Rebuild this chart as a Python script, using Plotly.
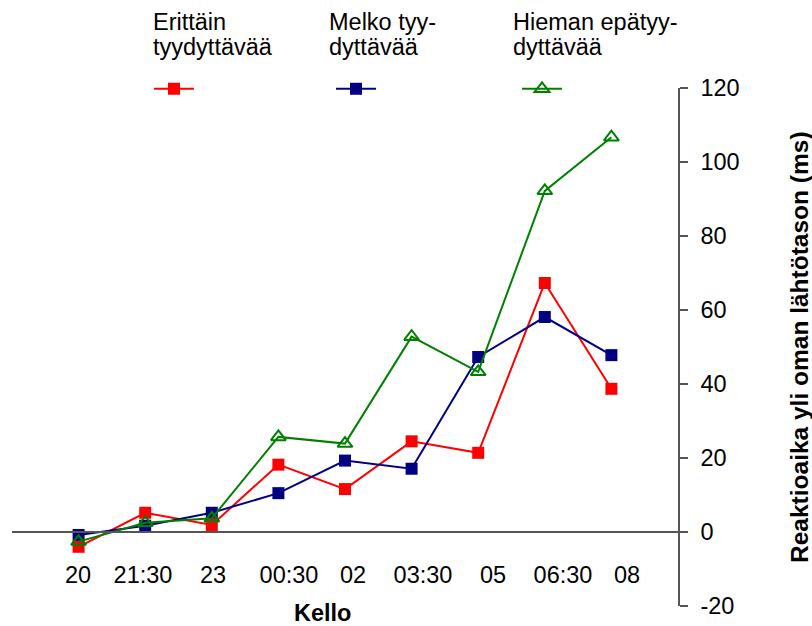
import plotly.graph_objects as go

# Clock times of the measurements
categories = ["20", "21:30", "23", "00:30", "02", "03:30", "05", "06:30", "08"]

# Reaction time above own baseline (ms), by sleep-quality group
erittain = [-4.0, 5.2, 1.9, 18.2, 11.6, 24.5, 21.4, 67.3, 38.7]
melko = [-0.8, 1.7, 5.2, 10.5, 19.3, 17.1, 47.3, 58.1, 47.8]
hieman = [-2.6, 2.5, 3.7, 25.7, 23.9, 52.8, 43.3, 92.2, 106.7]

series_lines = [
    ["Erittäin", "tyydyttävää"],
    ["Melko tyy-", "dyttävää"],
    ["Hieman epätyy-", "dyttävää"],
]
y_ticks = [-20, 0, 20, 40, 60, 80, 100, 120]

FONT = "Arial, Liberation Sans, sans-serif"
FS = 23.5
W, H = 812, 626
ML, MR, MT, MB = 12, 134, 88, 20
PW, PH = W - ML - MR, H - MT - MB


def px_x(px):
    return (px - ML) / PW


def px_y(py):
    return (H - MB - py) / PH


xs = list(range(len(categories)))
fig = go.Figure()

styles = [
    dict(color="#FF0000", symbol="square", fill=True),
    dict(color="#000080", symbol="square", fill=True),
    dict(color="#008000", symbol="triangle-up-open", fill=False),
]
legends = ["legend", "legend2", "legend3"]
for vals, st, lg in zip([erittain, melko, hieman], styles, legends):
    fig.add_trace(go.Scatter(
        x=xs, y=vals, mode="lines+markers", name="",
        line=dict(color=st["color"], width=2),
        marker=dict(symbol=st["symbol"], size=12 if st["fill"] else 13,
                    color=st["color"],
                    line=dict(color=st["color"], width=0 if st["fill"] else 2)),
        legend=lg, showlegend=True,
    ))

# x axis line sits at y = 0
y0_pos = (0 - y_ticks[0]) / (y_ticks[-1] - y_ticks[0])

# category labels are spread slightly wider than the points they name
label_centres_px = [78, 143, 213, 289, 353, 423, 493, 563, 627]
x_per_px = 10 / PW
label_vals = [(p - ML) * x_per_px - 1 for p in label_centres_px]

axis_col = "#555555"
fig.update_layout(
    width=W, height=H,
    margin=dict(l=ML, r=MR, t=MT, b=MB, autoexpand=False),
    plot_bgcolor="white", paper_bgcolor="white",
    font=dict(family=FONT, size=FS, color="black"),
    xaxis=dict(
        range=[-1, 9], tickmode="array", tickvals=label_vals, ticktext=categories,
        ticks="", showgrid=False, zeroline=False,
        showline=True, linecolor=axis_col, linewidth=1.5,
        anchor="free", position=y0_pos, ticklabelstandoff=22,
        tickfont=dict(size=FS),
    ),
    xaxis2=dict(
        range=[-1, 9], overlaying="x", tickmode="array",
        tickvals=[-1, 1, 3, 5, 7, 9], ticks="outside", ticklen=8,
        tickcolor=axis_col, tickwidth=1.5,
        showticklabels=False, showgrid=False, zeroline=False,
        showline=False, anchor="free", position=y0_pos,
    ),
    yaxis=dict(
        range=[y_ticks[0], y_ticks[-1]], tickmode="array", tickvals=y_ticks,
        ticktext=[str(v) for v in y_ticks],
        side="right", ticks="outside", ticklen=8, tickcolor=axis_col, tickwidth=1.5,
        showline=True, linecolor=axis_col, linewidth=1.5,
        showgrid=False, zeroline=False, ticklabelstandoff=8,
        tickfont=dict(size=FS),
    ),
    showlegend=True,
)

# One legend per series; swatch sits under its two-line label
swatch_left_px = [155, 337, 523]
text_left_px = [151, 327, 511]
for lg, lines, sx, tx in zip(legends, series_lines, swatch_left_px, text_left_px):
    fig.layout[lg] = dict(
        x=px_x(sx - 6), xanchor="left",
        y=px_y(89), yanchor="middle", yref="paper",
        font=dict(size=FS, family=FONT),
        bgcolor="rgba(0,0,0,0)", itemwidth=40,
        orientation="h",
    )
    for line, ly in zip(lines, [22, 47]):
        fig.add_annotation(
            text=line, xref="paper", yref="paper",
            x=px_x(tx), y=px_y(ly), xanchor="left", yanchor="middle",
            showarrow=False, font=dict(size=FS, family=FONT),
        )

fig.add_annotation(
    text="<b>Kello</b>", xref="paper", yref="paper",
    x=px_x(322), y=px_y(613),
    xanchor="center", yanchor="middle", showarrow=False,
    font=dict(size=FS, family=FONT),
)
fig.add_annotation(
    text="<b>Reaktioaika yli oman lähtötason (ms)</b>", xref="paper", yref="paper",
    x=px_x(799), y=0.5, textangle=-90,
    xanchor="center", yanchor="middle", showarrow=False,
    font=dict(size=24.5, family=FONT),
)

fig.write_html("out.html")
